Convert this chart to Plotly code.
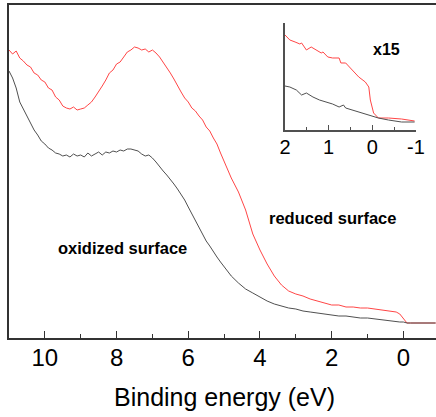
import plotly.graph_objects as go

# main spectra (binding energy in eV, intensity in arb. units)
energy = [11.0, 10.9, 10.8, 10.7, 10.6, 10.5, 10.4, 10.3, 10.2, 10.1,
          10.0, 9.9, 9.8, 9.7, 9.6, 9.5, 9.4, 9.3, 9.2, 9.1,
          9.0, 8.9, 8.8, 8.7, 8.6, 8.5, 8.4, 8.3, 8.2, 8.1,
          8.0, 7.9, 7.8, 7.7, 7.6, 7.5, 7.4, 7.3, 7.2, 7.1,
          7.0, 6.9, 6.8, 6.7, 6.6, 6.5, 6.4, 6.3, 6.2, 6.1,
          6.0, 5.9, 5.8, 5.7, 5.6, 5.5, 5.4, 5.3, 5.2, 5.1,
          5.0, 4.8, 4.6, 4.4, 4.2, 4.0, 3.8, 3.6, 3.4, 3.2,
          3.0, 2.8, 2.6, 2.4, 2.2, 2.0, 1.8, 1.6, 1.4, 1.2,
          1.0, 0.8, 0.6, 0.4, 0.2, 0.1, 0.0, -0.1, -0.2, -0.4,
          -0.6, -0.8, -0.9]

reduced = [288, 284, 287, 280, 277, 273, 271, 265, 263, 258,
           256, 250, 248, 241, 238, 232, 230, 229, 231, 228,
           229, 230, 233, 236, 241, 246, 252, 258, 265, 268,
           274, 276, 281, 286, 288, 291, 290, 288, 289, 286,
           288, 285, 281, 276, 271, 265, 259, 252, 246, 240,
           236, 230, 227, 222, 218, 211, 207, 200, 194, 185,
           177, 160, 146, 128, 104, 88, 74, 62, 53, 47,
           44, 42, 39, 37, 35, 33, 33, 31, 31, 30,
           30, 29, 28, 27, 26, 24, 20, 15, 15, 15,
           15, 15, 15]

oxidized = [267, 260, 250, 236, 229, 222, 216, 208, 203, 197,
            194, 190, 188, 185, 184, 182, 183, 181, 184, 182,
            183, 181, 185, 182, 184, 186, 183, 186, 185, 187,
            186, 188, 187, 189, 189, 188, 187, 184, 182, 183,
            180, 176, 171, 167, 163, 159, 154, 149, 144, 138,
            131, 124, 117, 110, 103, 97, 92, 86, 81, 76,
            71, 62, 55, 49, 45, 41, 37, 34, 32, 30,
            29, 27, 26, 25, 24, 23, 22, 22, 21, 20,
            20, 19, 18, 17, 16, 16, 16, 15, 15, 15,
            15, 15, 15]

# inset (valence band edge, x15)
inset_red_e = [2.0, 1.89, 1.77, 1.66, 1.62, 1.51, 1.40, 1.29, 1.17, 1.13, 1.02, 0.91, 0.76,
               0.72, 0.61, 0.46, 0.31, 0.16, 0.08, 0.045, -0.03, -0.14, -0.37, -0.67, -0.97]
inset_red_i = [95, 90, 88, 86, 87, 80, 83, 80, 77, 78, 73, 72, 72,
               67, 67, 60, 53, 48, 43, 30, 17, 12, 12, 11, 9]
inset_black_e = [2.0, 1.89, 1.74, 1.62, 1.51, 1.36, 1.21, 1.06, 0.91, 0.76, 0.66, 0.61,
                 0.46, 0.31, 0.08, -0.14, -0.37, -0.67, -0.97]
inset_black_i = [44, 43, 40, 35, 37, 33, 30, 28, 26, 23, 25, 22,
                 20, 18, 15, 12, 10, 8, 8]
inset_ticks = [2, 1, 0, -1]
inset_ticklabels = ["2", "1", "0", "-1"]

RED = "rgb(255,70,70)"
GREY = "rgb(80,80,80)"
AXIS = "rgb(50,50,50)"
FONT = "Arial, Liberation Sans, sans-serif"

fig = go.Figure()
fig.add_trace(go.Scatter(x=energy, y=reduced, mode="lines", line=dict(color=RED, width=1)))
fig.add_trace(go.Scatter(x=energy, y=oxidized, mode="lines", line=dict(color=GREY, width=1)))
fig.add_trace(go.Scatter(x=inset_red_e, y=inset_red_i, mode="lines",
                         line=dict(color=RED, width=1), xaxis="x2", yaxis="y2"))
fig.add_trace(go.Scatter(x=inset_black_e, y=inset_black_i, mode="lines",
                         line=dict(color=GREY, width=1), xaxis="x2", yaxis="y2"))

fig.update_layout(
    template="none",
    width=436, height=417,
    margin=dict(l=9, r=0, t=5, b=79, autoexpand=False),
    plot_bgcolor="white", paper_bgcolor="white",
    showlegend=False,
    font=dict(family=FONT, color="black"),
    xaxis=dict(
        range=[11.0, -0.91], showgrid=False, zeroline=False, automargin=False,
        showline=True, linecolor=AXIS, linewidth=1.5, mirror=True,
        ticks="inside", ticklen=7, tickwidth=1, tickcolor=AXIS,
        tick0=0, dtick=2, tickfont=dict(size=24), ticklabelstandoff=-3,
        minor=dict(dtick=1, ticks="inside", ticklen=4, tickcolor=AXIS),
    ),
    yaxis=dict(
        range=[0, 333], showgrid=False, zeroline=False, automargin=False,
        showline=True, linecolor=AXIS, linewidth=1.5,
        showticklabels=False, ticks="",
    ),
    xaxis2=dict(
        domain=[0.6464, 0.953], anchor="y2", range=[2, -1], automargin=False,
        showgrid=False, zeroline=False, showline=True, linecolor=GREY, linewidth=1.5,
        ticks="inside", ticklen=5, tickcolor=GREY,
        tickmode="array", tickvals=inset_ticks, ticktext=inset_ticklabels,
        tickfont=dict(size=20), ticklabelstandoff=-2,
        minor=dict(dtick=0.5, tick0=0, ticks="inside", ticklen=3, tickcolor=GREY),
    ),
    yaxis2=dict(
        domain=[0.6246, 0.946], anchor="x2", range=[0, 107], automargin=False,
        showgrid=False, zeroline=False, showline=True, linecolor=GREY, linewidth=1.5,
        showticklabels=False, ticks="",
    ),
    annotations=[
        dict(x=(224 - 9) / 427, y=(338 - 397) / 333, xref="paper", yref="paper",
             text="Binding energy (eV)", showarrow=False, font=dict(size=25),
             yanchor="middle"),
        dict(x=1.97, y=120, xref="x", yref="y", text="<b>reduced surface</b>",
             showarrow=False, font=dict(size=16.5)),
        dict(x=7.84, y=90, xref="x", yref="y", text="<b>oxidized surface</b>",
             showarrow=False, font=dict(size=16.5)),
        dict(x=-0.33, y=80, xref="x2", yref="y2", text="<b>x15</b>",
             showarrow=False, font=dict(size=16)),
    ],
)

# page body has an 8px default margin; drop it so the figure sits at 0,0
fig.write_html("out.html", config={"displayModeBar": False},
               post_script="document.body.style.margin='0';")
